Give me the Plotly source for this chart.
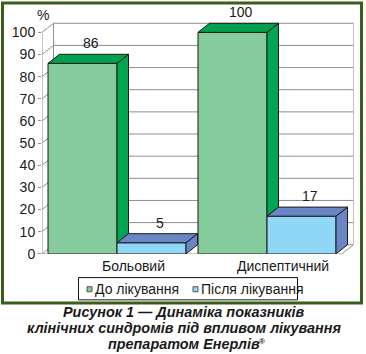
import plotly.graph_objects as go

# ---------------- data ----------------
categories = ["Больовий", "Диспептичний"]
series_names = ["До лікування", "Після лікування"]
before = [86, 100]
after = [5, 17]
y_ticks = [0, 10, 20, 30, 40, 50, 60, 70, 80, 90, 100]
y_unit = "%"
caption_lines = ["Рисунок 1 — Динаміка показників",
                 "клінічних синдромів під впливом лікування",
                 "препаратом Енерлів"]
caption_mark = "®"

# ---------------- layout constants ----------------
W, H = 366, 366
S = 354 / 366                 # vertical factor applied when the page is photographed
UNIT_PX = 150                 # px per category
AX_L = 42                     # px of x = -0.5
Y_ZERO, Y_TOP = 251, 10.1     # target px of y=0 and y=YMAX
YMAX = 110
X_EXTRA = 0.1                 # room on the right for depth
BAR_W = 0.46
DX = 0.0767                   # depth offset in x units
DY = 4.1                      # depth offset in y units
CAPTION_Y = [308.5, 324.5, 340.5]   # target px centres of caption lines
CAP_SIZE = 14.4

front_cols = ["#86cb9c", "#8fd7f6"]
side_cols = ["#00a651", "#6a86c6"]
top_cols = ["#00a04e", "#6a86c6"]
edge = "#1a1a1a"
grid = "#8e8e8e"

x_left, x_right = -0.5, len(categories) - 0.5
x_hi = x_right + X_EXTRA
ytop = max(y_ticks)


def px2paper_x(px):
    return px / W


def px2paper_y(py):
    return (H - py / S) / H


fig = go.Figure()

# ---- back wall grid on the main axes (drawn first, beneath the bars) ----
gx, gy = [], []
for t in y_ticks:
    gx += [x_left + DX, x_right + DX, None, x_left, x_left + DX, None]
    gy += [t + DY, t + DY, None, t, t + DY, None]
gx += [x_left + DX, x_left + DX, None, x_left, x_left, None, x_left, x_right, None,
       x_right, x_right + DX, None, x_right, x_right, None, 0.5, 0.5, None]
gy += [DY, ytop + DY, None, 0, ytop, None, 0, 0, None,
       0, DY, None, 0, -1.8, None, 0, -1.8, None]
fig.add_trace(go.Scatter(x=gx, y=gy, mode="lines", line=dict(color=grid, width=1),
                         showlegend=False, hoverinfo="skip", xaxis="x", yaxis="y"))
fig.add_trace(go.Scatter(x=[x_right + DX, x_right + DX], y=[DY, ytop + DY], mode="lines",
                         line=dict(color="#c4c4c4", width=1),
                         showlegend=False, hoverinfo="skip", xaxis="x", yaxis="y"))

# ---- bars (front faces) on overlay axes ----
for k, (vals, name) in enumerate([(before, series_names[0]), (after, series_names[1])]):
    fig.add_trace(go.Bar(
        x=list(range(len(categories))), y=vals, name=name,
        offset=-BAR_W if k == 0 else 0, width=BAR_W,
        marker=dict(color=front_cols[k], line=dict(color=edge, width=1)),
        showlegend=False, hoverinfo="skip", xaxis="x2", yaxis="y2"))


def poly(xs, ys, fill):
    fig.add_trace(go.Scatter(
        x=xs + [xs[0]], y=ys + [ys[0]], mode="lines", fill="toself",
        fillcolor=fill, line=dict(color=edge, width=1),
        showlegend=False, hoverinfo="skip", xaxis="x2", yaxis="y2"))


# ---- side and top faces ----
for i in range(len(categories)):
    v, w = before[i], after[i]
    xl, xr = i - BAR_W, i
    low = min(w, v)
    poly([xr, xr + DX, xr + DX, xr], [low, low + DY, v + DY, v], side_cols[0])
    poly([xl, xr, xr + DX, xl + DX], [v, v, v + DY, v + DY], top_cols[0])
    xl2, xr2 = i, i + BAR_W
    poly([xr2, xr2 + DX, xr2 + DX, xr2], [0, DY, w + DY, w], side_cols[1])
    poly([xl2, xr2, xr2 + DX, xl2 + DX], [w, w, w + DY, w + DY], top_cols[1])

shapes = []
# outer green frame
shapes.append(dict(type="rect", xref="paper", yref="paper",
                   x0=px2paper_x(2.5), x1=px2paper_x(361.5),
                   y0=px2paper_y(299.5), y1=px2paper_y(3),
                   line=dict(color="#3b5d1b", width=3), layer="above"))

# manual legend
shapes.append(dict(type="rect", xref="paper", yref="paper",
                   x0=px2paper_x(78.5), x1=px2paper_x(297.5),
                   y0=px2paper_y(296.5), y1=px2paper_y(274.5),
                   line=dict(color="#111111", width=1), fillcolor="white", layer="above"))
leg_x = [87, 193]
annotations = []
for k, name in enumerate(series_names):
    shapes.append(dict(type="rect", xref="paper", yref="paper",
                       x0=px2paper_x(leg_x[k]), x1=px2paper_x(leg_x[k] + 5),
                       y0=px2paper_y(288.5), y1=px2paper_y(283.5),
                       line=dict(color="#555555", width=1), fillcolor=front_cols[k],
                       layer="above"))
    annotations.append(dict(xref="paper", yref="paper", x=px2paper_x(leg_x[k] + 6),
                            y=px2paper_y(285.5), xanchor="left", yanchor="middle",
                            text=name, showarrow=False,
                            font=dict(size=14, color="#1a1a1a")))

# data labels
for k, vals in enumerate([before, after]):
    for i, v in enumerate(vals):
        cx = i - BAR_W / 2 if k == 0 else i + BAR_W / 2
        annotations.append(dict(xref="x", yref="y", x=cx + DX * 0.75, y=v + DY,
                                yanchor="bottom", yshift=1, text=str(v), showarrow=False,
                                font=dict(size=14, color="#1a1a1a")))

# unit label
annotations.append(dict(xref="paper", yref="paper", x=px2paper_x(43), y=px2paper_y(15),
                        xanchor="center", yanchor="middle", text=y_unit, showarrow=False,
                        font=dict(size=14, color="#1a1a1a")))

# x category labels
for i, c in enumerate(categories):
    annotations.append(dict(xref="x", yref="paper", x=i, xshift=16,
                            y=px2paper_y(263), xanchor="center", yanchor="middle",
                            text=c, showarrow=False, font=dict(size=14, color="#1a1a1a")))

# caption, one annotation per line
for ln, py in zip(caption_lines, CAPTION_Y):
    annotations.append(dict(xref="paper", yref="paper", x=px2paper_x(184), y=px2paper_y(py),
                            xanchor="center", yanchor="middle", showarrow=False,
                            text="<b><i>" + ln + "</i></b>", borderpad=0,
                            font=dict(size=CAP_SIZE, color="#1a1a1a")))
annotations.append(dict(xref="paper", yref="paper", x=px2paper_x(258), y=px2paper_y(337.5),
                        xanchor="left", yanchor="middle", showarrow=False,
                        text="<b>" + caption_mark + "</b>", borderpad=0,
                        font=dict(size=8, color="#1a1a1a")))

x_domain = [px2paper_x(AX_L), px2paper_x(AX_L + (x_hi - x_left) * UNIT_PX)]
y_domain = [px2paper_y(Y_ZERO), px2paper_y(Y_TOP)]
fig.update_layout(
    width=W, height=H, margin=dict(l=0, r=0, t=0, b=0),
    paper_bgcolor="white", plot_bgcolor="white",
    barmode="overlay", showlegend=False,
    font=dict(family="Arial, Liberation Sans, sans-serif", size=14, color="#1a1a1a"),
    xaxis=dict(domain=x_domain, range=[x_left, x_hi], showticklabels=False,
               showgrid=False, zeroline=False, showline=False, ticks=""),
    yaxis=dict(domain=y_domain, range=[0, YMAX],
               tickvals=y_ticks, ticks="outside", ticklen=3, tickcolor=grid,
               showgrid=False, zeroline=False, showline=False, tickfont=dict(size=14)),
    xaxis2=dict(overlaying="x", range=[x_left, x_hi], visible=False),
    yaxis2=dict(overlaying="y", range=[0, YMAX], visible=False),
    shapes=shapes, annotations=annotations,
)

fig.write_html("out.html")
